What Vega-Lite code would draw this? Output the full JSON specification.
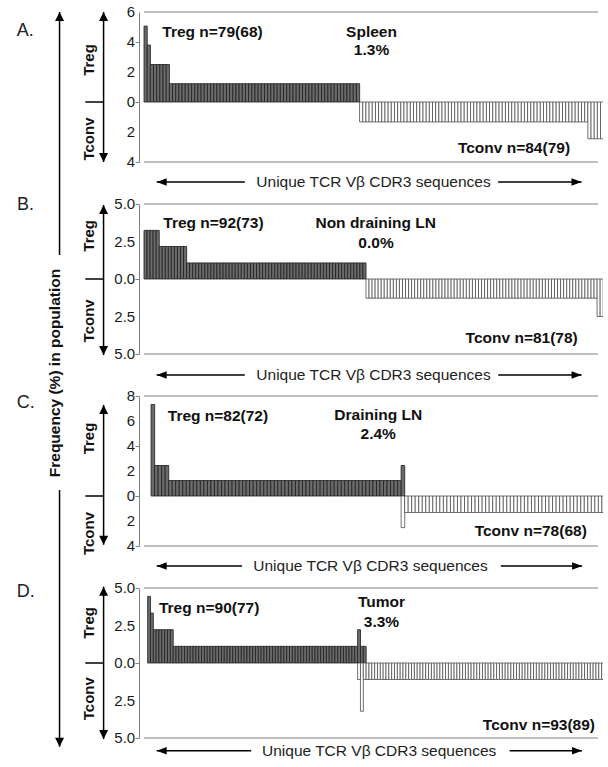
{
"$schema":"https://vega.github.io/schema/vega-lite/v6.json",
"padding":{"left":16,"top":5,"right":0,"bottom":0},
"background":"white",
"bounds":"flush",
"spacing":42,
"config":{
 "view":{"stroke":null},
 "font":"Liberation Sans",
 "axis":{"grid":false,"domainColor":"#808080","domainWidth":1,"tickColor":"#808080","tickSize":4,"labels":false,"title":null},
 "text":{"font":"Liberation Sans","baseline":"middle","align":"center","color":"#111111","fontSize":15.5},
 "rule":{"color":"#000000","strokeWidth":1.5},
 "point":{"filled":true,"color":"#000000","opacity":1,"size":81,"strokeWidth":0}
},
"vconcat":[
{
"width":464,"height":150,
"data":{"values":[{}]},
"layer":[
 {"data":{"values":[
{"i":0,"v":5.06},{"i":1,"v":3.8},{"i":2,"v":2.5},{"i":3,"v":2.5},{"i":4,"v":2.5},{"i":5,"v":2.5},{"i":6,"v":2.5},{"i":7,"v":2.5},
{"i":8,"v":1.22},{"i":9,"v":1.22},{"i":10,"v":1.22},{"i":11,"v":1.22},{"i":12,"v":1.22},{"i":13,"v":1.22},{"i":14,"v":1.22},{"i":15,"v":1.22},{"i":16,"v":1.22},{"i":17,"v":1.22},
{"i":18,"v":1.22},{"i":19,"v":1.22},{"i":20,"v":1.22},{"i":21,"v":1.22},{"i":22,"v":1.22},{"i":23,"v":1.22},{"i":24,"v":1.22},{"i":25,"v":1.22},{"i":26,"v":1.22},{"i":27,"v":1.22},
{"i":28,"v":1.22},{"i":29,"v":1.22},{"i":30,"v":1.22},{"i":31,"v":1.22},{"i":32,"v":1.22},{"i":33,"v":1.22},{"i":34,"v":1.22},{"i":35,"v":1.22},{"i":36,"v":1.22},{"i":37,"v":1.22},
{"i":38,"v":1.22},{"i":39,"v":1.22},{"i":40,"v":1.22},{"i":41,"v":1.22},{"i":42,"v":1.22},{"i":43,"v":1.22},{"i":44,"v":1.22},{"i":45,"v":1.22},{"i":46,"v":1.22},{"i":47,"v":1.22},
{"i":48,"v":1.22},{"i":49,"v":1.22},{"i":50,"v":1.22},{"i":51,"v":1.22},{"i":52,"v":1.22},{"i":53,"v":1.22},{"i":54,"v":1.22},{"i":55,"v":1.22},{"i":56,"v":1.22},{"i":57,"v":1.22},
{"i":58,"v":1.22},{"i":59,"v":1.22},{"i":60,"v":1.22},{"i":61,"v":1.22},{"i":62,"v":1.22},{"i":63,"v":1.22},{"i":64,"v":1.22},{"i":65,"v":1.22},{"i":66,"v":1.22},{"i":67,"v":1.22},
{"i":68,"v":-1.33},{"i":69,"v":-1.33},{"i":70,"v":-1.33},{"i":71,"v":-1.33},{"i":72,"v":-1.33},{"i":73,"v":-1.33},{"i":74,"v":-1.33},{"i":75,"v":-1.33},{"i":76,"v":-1.33},{"i":77,"v":-1.33},
{"i":78,"v":-1.33},{"i":79,"v":-1.33},{"i":80,"v":-1.33},{"i":81,"v":-1.33},{"i":82,"v":-1.33},{"i":83,"v":-1.33},{"i":84,"v":-1.33},{"i":85,"v":-1.33},{"i":86,"v":-1.33},{"i":87,"v":-1.33},
{"i":88,"v":-1.33},{"i":89,"v":-1.33},{"i":90,"v":-1.33},{"i":91,"v":-1.33},{"i":92,"v":-1.33},{"i":93,"v":-1.33},{"i":94,"v":-1.33},{"i":95,"v":-1.33},{"i":96,"v":-1.33},{"i":97,"v":-1.33},
{"i":98,"v":-1.33},{"i":99,"v":-1.33},{"i":100,"v":-1.33},{"i":101,"v":-1.33},{"i":102,"v":-1.33},{"i":103,"v":-1.33},{"i":104,"v":-1.33},{"i":105,"v":-1.33},{"i":106,"v":-1.33},{"i":107,"v":-1.33},
{"i":108,"v":-1.33},{"i":109,"v":-1.33},{"i":110,"v":-1.33},{"i":111,"v":-1.33},{"i":112,"v":-1.33},{"i":113,"v":-1.33},{"i":114,"v":-1.33},{"i":115,"v":-1.33},{"i":116,"v":-1.33},{"i":117,"v":-1.33},
{"i":118,"v":-1.33},{"i":119,"v":-1.33},{"i":120,"v":-1.33},{"i":121,"v":-1.33},{"i":122,"v":-1.33},{"i":123,"v":-1.33},{"i":124,"v":-1.33},{"i":125,"v":-1.33},{"i":126,"v":-1.33},{"i":127,"v":-1.33},
{"i":128,"v":-1.33},{"i":129,"v":-1.33},{"i":130,"v":-1.33},{"i":131,"v":-1.33},{"i":132,"v":-1.33},{"i":133,"v":-1.33},{"i":134,"v":-1.33},{"i":135,"v":-1.33},{"i":136,"v":-1.33},{"i":137,"v":-1.33},
{"i":138,"v":-1.33},{"i":139,"v":-1.33},{"i":140,"v":-2.45},{"i":141,"v":-2.45},{"i":142,"v":-2.45},{"i":143,"v":-2.45},{"i":144,"v":-2.45},{"i":145,"v":-2.45},{"i":146,"v":-2.45}
 ]},
  "mark":{"type":"bar","width":3.24,"xOffset":1.62,"clip":true,"strokeWidth":0.8},
  "encoding":{
   "x":{"field":"i","type":"quantitative","scale":{"domain":[0,143.2],"nice":false,"zero":false},"axis":null},
   "y":{"field":"v","type":"quantitative","scale":{"domain":[-4,6],"nice":false},"axis":{"title":null,"labels":false,"values":[-4,-2,0,2,4,6]}},
   "fill":{"condition":{"test":"datum.v>0","value":"#6b6b6b"},"value":"#ffffff"},
   "stroke":{"condition":{"test":"datum.v>0","value":"#1e1e1e"},"value":"#4d4d4d"}
  }},
 {"data":{"values":[{"t":-4,"s":"4"},{"t":-2,"s":"2"},{"t":0,"s":"0"},{"t":2,"s":"2"},{"t":4,"s":"4"},{"t":6,"s":"6"}]},
  "mark":{"type":"text","align":"right","fontSize":15,"color":"#1a1a1a"},
  "encoding":{"x":{"datum":-2.78,"axis":null},"y":{"field":"t","type":"quantitative"},"text":{"field":"s"}}},
 {"mark":{"type":"rule","color":"#808080","strokeWidth":1},"encoding":{"x":{"datum":0,"axis":null},"x2":{"datum":143.2},"y":{"datum":6}}},
 {"mark":{"type":"rule","color":"#808080","strokeWidth":1},"encoding":{"x":{"datum":0,"axis":null},"x2":{"datum":143.2},"y":{"datum":-4}}},
 {"mark":{"type":"text","text":"A.","align":"left","fontSize":18,"color":"#222222"},"encoding":{"x":{"datum":-40.1,"axis":null},"y":{"datum":4.73}}},
 {"mark":{"type":"text","text":"Treg","angle":270,"fontWeight":"bold","fontSize":15},"encoding":{"x":{"datum":-17.3,"axis":null},"y":{"datum":2.8}}},
 {"mark":{"type":"text","text":"Tconv","angle":270,"fontWeight":"bold","fontSize":15},"encoding":{"x":{"datum":-17.3,"axis":null},"y":{"datum":-2.47}}},
 {"mark":"rule","encoding":{"x":{"datum":-12.75,"axis":null},"y":{"datum":6},"y2":{"datum":-4}}},
 {"mark":{"type":"point","shape":"M0,0L-1,2L1,2Z"},"encoding":{"x":{"datum":-12.75,"axis":null},"y":{"datum":6}}},
 {"mark":{"type":"point","shape":"M0,0L-1,-2L1,-2Z"},"encoding":{"x":{"datum":-12.75,"axis":null},"y":{"datum":-4}}},
 {"mark":"rule","encoding":{"x":{"datum":-18.5,"axis":null},"x2":{"datum":-12.75},"y":{"datum":0}}},
 {"mark":{"type":"text","text":"Treg n=79(68)","align":"left","fontWeight":"bold"},"encoding":{"x":{"datum":5.77,"axis":null},"y":{"datum":4.69}}},
 {"mark":{"type":"text","text":"Spleen","fontWeight":"bold"},"encoding":{"x":{"datum":71.76,"axis":null},"y":{"datum":4.67}}},
 {"mark":{"type":"text","text":"1.3%","fontWeight":"bold"},"encoding":{"x":{"datum":71.76,"axis":null},"y":{"datum":3.47}}},
 {"mark":{"type":"text","text":"Tconv n=84(79)","fontWeight":"bold"},"encoding":{"x":{"datum":116.7,"axis":null},"y":{"datum":-3.07}}},
 {"mark":"rule","encoding":{"x":{"datum":4.01,"axis":null},"x2":{"datum":31.8},"y":{"datum":-5.33}}},
 {"mark":"rule","encoding":{"x":{"datum":111.7,"axis":null},"x2":{"datum":138.0},"y":{"datum":-5.33}}},
 {"mark":{"type":"point","shape":"M0,0L2,-0.75L2,0.75Z","size":100},"encoding":{"x":{"datum":4.01,"axis":null},"y":{"datum":-5.33}}},
 {"mark":{"type":"point","shape":"M0,0L-2,-0.75L-2,0.75Z","size":100},"encoding":{"x":{"datum":138.0,"axis":null},"y":{"datum":-5.33}}},
 {"mark":{"type":"text","text":"Unique TCR Vβ CDR3 sequences","color":"#222222"},"encoding":{"x":{"datum":72.4,"axis":null},"y":{"datum":-5.33}}},
 {"mark":"rule","encoding":{"x":{"datum":-26.64,"axis":null},"y":{"datum":6},"y2":{"datum":-10.2}}},
 {"mark":"rule","encoding":{"x":{"datum":-26.64,"axis":null},"y":{"datum":-25.87},"y2":{"datum":-42.98}}},
 {"mark":{"type":"point","shape":"M0,0L-1,2L1,2Z"},"encoding":{"x":{"datum":-26.64,"axis":null},"y":{"datum":6}}},
 {"mark":{"type":"point","shape":"M0,0L-1,-2L1,-2Z"},"encoding":{"x":{"datum":-26.64,"axis":null},"y":{"datum":-42.98}}},
 {"mark":{"type":"text","text":"Frequency (%) in population","angle":270,"fontWeight":"bold"},"encoding":{"x":{"datum":-27.93,"axis":null},"y":{"datum":-18.07}}}
]},
{
"width":464,"height":150,
"data":{"values":[{}]},
"layer":[
 {"data":{"values":[
{"i":0,"v":3.24},{"i":1,"v":3.24},{"i":2,"v":3.24},{"i":3,"v":3.24},{"i":4,"v":3.24},
{"i":5,"v":2.17},{"i":6,"v":2.17},{"i":7,"v":2.17},{"i":8,"v":2.17},{"i":9,"v":2.17},{"i":10,"v":2.17},{"i":11,"v":2.17},{"i":12,"v":2.17},{"i":13,"v":2.17},
{"i":14,"v":1.07},{"i":15,"v":1.07},{"i":16,"v":1.07},{"i":17,"v":1.07},{"i":18,"v":1.07},{"i":19,"v":1.07},{"i":20,"v":1.07},{"i":21,"v":1.07},{"i":22,"v":1.07},{"i":23,"v":1.07},
{"i":24,"v":1.07},{"i":25,"v":1.07},{"i":26,"v":1.07},{"i":27,"v":1.07},{"i":28,"v":1.07},{"i":29,"v":1.07},{"i":30,"v":1.07},{"i":31,"v":1.07},{"i":32,"v":1.07},{"i":33,"v":1.07},
{"i":34,"v":1.07},{"i":35,"v":1.07},{"i":36,"v":1.07},{"i":37,"v":1.07},{"i":38,"v":1.07},{"i":39,"v":1.07},{"i":40,"v":1.07},{"i":41,"v":1.07},{"i":42,"v":1.07},{"i":43,"v":1.07},
{"i":44,"v":1.07},{"i":45,"v":1.07},{"i":46,"v":1.07},{"i":47,"v":1.07},{"i":48,"v":1.07},{"i":49,"v":1.07},{"i":50,"v":1.07},{"i":51,"v":1.07},{"i":52,"v":1.07},{"i":53,"v":1.07},
{"i":54,"v":1.07},{"i":55,"v":1.07},{"i":56,"v":1.07},{"i":57,"v":1.07},{"i":58,"v":1.07},{"i":59,"v":1.07},{"i":60,"v":1.07},{"i":61,"v":1.07},{"i":62,"v":1.07},{"i":63,"v":1.07},
{"i":64,"v":1.07},{"i":65,"v":1.07},{"i":66,"v":1.07},{"i":67,"v":1.07},{"i":68,"v":1.07},{"i":69,"v":1.07},{"i":70,"v":1.07},{"i":71,"v":1.07},{"i":72,"v":1.07},
{"i":73,"v":-1.28},{"i":74,"v":-1.28},{"i":75,"v":-1.28},{"i":76,"v":-1.28},{"i":77,"v":-1.28},{"i":78,"v":-1.28},{"i":79,"v":-1.28},{"i":80,"v":-1.28},{"i":81,"v":-1.28},{"i":82,"v":-1.28},
{"i":83,"v":-1.28},{"i":84,"v":-1.28},{"i":85,"v":-1.28},{"i":86,"v":-1.28},{"i":87,"v":-1.28},{"i":88,"v":-1.28},{"i":89,"v":-1.28},{"i":90,"v":-1.28},{"i":91,"v":-1.28},{"i":92,"v":-1.28},
{"i":93,"v":-1.28},{"i":94,"v":-1.28},{"i":95,"v":-1.28},{"i":96,"v":-1.28},{"i":97,"v":-1.28},{"i":98,"v":-1.28},{"i":99,"v":-1.28},{"i":100,"v":-1.28},{"i":101,"v":-1.28},{"i":102,"v":-1.28},
{"i":103,"v":-1.28},{"i":104,"v":-1.28},{"i":105,"v":-1.28},{"i":106,"v":-1.28},{"i":107,"v":-1.28},{"i":108,"v":-1.28},{"i":109,"v":-1.28},{"i":110,"v":-1.28},{"i":111,"v":-1.28},{"i":112,"v":-1.28},
{"i":113,"v":-1.28},{"i":114,"v":-1.28},{"i":115,"v":-1.28},{"i":116,"v":-1.28},{"i":117,"v":-1.28},{"i":118,"v":-1.28},{"i":119,"v":-1.28},{"i":120,"v":-1.28},{"i":121,"v":-1.28},{"i":122,"v":-1.28},
{"i":123,"v":-1.28},{"i":124,"v":-1.28},{"i":125,"v":-1.28},{"i":126,"v":-1.28},{"i":127,"v":-1.28},{"i":128,"v":-1.28},{"i":129,"v":-1.28},{"i":130,"v":-1.28},{"i":131,"v":-1.28},{"i":132,"v":-1.28},
{"i":133,"v":-1.28},{"i":134,"v":-1.28},{"i":135,"v":-1.28},{"i":136,"v":-1.28},{"i":137,"v":-1.28},{"i":138,"v":-1.28},{"i":139,"v":-1.28},{"i":140,"v":-1.28},{"i":141,"v":-1.28},{"i":142,"v":-1.28},
{"i":143,"v":-1.28},{"i":144,"v":-1.28},{"i":145,"v":-1.28},{"i":146,"v":-1.28},{"i":147,"v":-1.28},{"i":148,"v":-1.28},{"i":149,"v":-2.5},{"i":150,"v":-2.5}
 ]},
  "mark":{"type":"bar","width":3.107,"xOffset":1.55,"clip":true,"strokeWidth":0.8},
  "encoding":{
   "x":{"field":"i","type":"quantitative","scale":{"domain":[0,149.3],"nice":false,"zero":false},"axis":null},
   "y":{"field":"v","type":"quantitative","scale":{"domain":[-5,5],"nice":false},"axis":{"title":null,"labels":false,"values":[-5,-2.5,0,2.5,5]}},
   "fill":{"condition":{"test":"datum.v>0","value":"#6b6b6b"},"value":"#ffffff"},
   "stroke":{"condition":{"test":"datum.v>0","value":"#1e1e1e"},"value":"#4d4d4d"}
  }},
 {"data":{"values":[{"t":-5,"s":"5.0"},{"t":-2.5,"s":"2.5"},{"t":0,"s":"0.0"},{"t":2.5,"s":"2.5"},{"t":5,"s":"5.0"}]},
  "mark":{"type":"text","align":"right","fontSize":15,"color":"#1a1a1a"},
  "encoding":{"x":{"datum":-2.9,"axis":null},"y":{"field":"t","type":"quantitative"},"text":{"field":"s"}}},
 {"mark":{"type":"rule","color":"#808080","strokeWidth":1},"encoding":{"x":{"datum":0,"axis":null},"x2":{"datum":149.3},"y":{"datum":5}}},
 {"mark":{"type":"rule","color":"#808080","strokeWidth":1},"encoding":{"x":{"datum":0,"axis":null},"x2":{"datum":149.3},"y":{"datum":-5}}},
 {"mark":{"type":"text","text":"B.","align":"left","fontSize":18,"color":"#222222"},"encoding":{"x":{"datum":-41.8,"axis":null},"y":{"datum":4.95}}},
 {"mark":{"type":"text","text":"Treg","angle":270,"fontWeight":"bold","fontSize":15},"encoding":{"x":{"datum":-18.0,"axis":null},"y":{"datum":2.88}}},
 {"mark":{"type":"text","text":"Tconv","angle":270,"fontWeight":"bold","fontSize":15},"encoding":{"x":{"datum":-18.0,"axis":null},"y":{"datum":-2.79}}},
 {"mark":"rule","encoding":{"x":{"datum":-13.3,"axis":null},"y":{"datum":4.93},"y2":{"datum":-5.07}}},
 {"mark":{"type":"point","shape":"M0,0L-1,2L1,2Z"},"encoding":{"x":{"datum":-13.3,"axis":null},"y":{"datum":4.93}}},
 {"mark":{"type":"point","shape":"M0,0L-1,-2L1,-2Z"},"encoding":{"x":{"datum":-13.3,"axis":null},"y":{"datum":-5.07}}},
 {"mark":"rule","encoding":{"x":{"datum":-19.3,"axis":null},"x2":{"datum":-13.3},"y":{"datum":0}}},
 {"mark":{"type":"text","text":"Treg n=92(73)","align":"left","fontWeight":"bold"},"encoding":{"x":{"datum":6.34,"axis":null},"y":{"datum":3.71}}},
 {"mark":{"type":"text","text":"Non draining LN","fontWeight":"bold"},"encoding":{"x":{"datum":76.2,"axis":null},"y":{"datum":3.71}}},
 {"mark":{"type":"text","text":"0.0%","fontWeight":"bold"},"encoding":{"x":{"datum":76.3,"axis":null},"y":{"datum":2.38}}},
 {"mark":{"type":"text","text":"Tconv n=81(78)","fontWeight":"bold"},"encoding":{"x":{"datum":124.2,"axis":null},"y":{"datum":-3.95}}},
 {"mark":"rule","encoding":{"x":{"datum":4.18,"axis":null},"x2":{"datum":33.15},"y":{"datum":-6.4}}},
 {"mark":"rule","encoding":{"x":{"datum":116.5,"axis":null},"x2":{"datum":143.9},"y":{"datum":-6.4}}},
 {"mark":{"type":"point","shape":"M0,0L2,-0.75L2,0.75Z","size":100},"encoding":{"x":{"datum":4.18,"axis":null},"y":{"datum":-6.4}}},
 {"mark":{"type":"point","shape":"M0,0L-2,-0.75L-2,0.75Z","size":100},"encoding":{"x":{"datum":143.9,"axis":null},"y":{"datum":-6.4}}},
 {"mark":{"type":"text","text":"Unique TCR Vβ CDR3 sequences","color":"#222222"},"encoding":{"x":{"datum":75.47,"axis":null},"y":{"datum":-6.4}}}
]},
{
"width":464,"height":150,
"data":{"values":[{}]},
"layer":[
 {"data":{"values":[
{"i":1,"v":7.32},{"i":2,"v":2.44},{"i":3,"v":2.44},{"i":4,"v":2.44},{"i":5,"v":2.44},
{"i":6,"v":1.24},{"i":7,"v":1.24},{"i":8,"v":1.24},{"i":9,"v":1.24},{"i":10,"v":1.24},{"i":11,"v":1.24},{"i":12,"v":1.24},{"i":13,"v":1.24},{"i":14,"v":1.24},{"i":15,"v":1.24},
{"i":16,"v":1.24},{"i":17,"v":1.24},{"i":18,"v":1.24},{"i":19,"v":1.24},{"i":20,"v":1.24},{"i":21,"v":1.24},{"i":22,"v":1.24},{"i":23,"v":1.24},{"i":24,"v":1.24},{"i":25,"v":1.24},
{"i":26,"v":1.24},{"i":27,"v":1.24},{"i":28,"v":1.24},{"i":29,"v":1.24},{"i":30,"v":1.24},{"i":31,"v":1.24},{"i":32,"v":1.24},{"i":33,"v":1.24},{"i":34,"v":1.24},{"i":35,"v":1.24},
{"i":36,"v":1.24},{"i":37,"v":1.24},{"i":38,"v":1.24},{"i":39,"v":1.24},{"i":40,"v":1.24},{"i":41,"v":1.24},{"i":42,"v":1.24},{"i":43,"v":1.24},{"i":44,"v":1.24},{"i":45,"v":1.24},
{"i":46,"v":1.24},{"i":47,"v":1.24},{"i":48,"v":1.24},{"i":49,"v":1.24},{"i":50,"v":1.24},{"i":51,"v":1.24},{"i":52,"v":1.24},{"i":53,"v":1.24},{"i":54,"v":1.24},{"i":55,"v":1.24},
{"i":56,"v":1.24},{"i":57,"v":1.24},{"i":58,"v":1.24},{"i":59,"v":1.24},{"i":60,"v":1.24},{"i":61,"v":1.24},{"i":62,"v":1.24},{"i":63,"v":1.24},{"i":64,"v":1.24},{"i":65,"v":1.24},
{"i":66,"v":1.24},{"i":67,"v":1.24},{"i":68,"v":1.24},{"i":69,"v":1.24},{"i":70,"v":1.24},{"i":71,"v":1.24},{"i":72,"v":2.44},
{"i":72,"v":-2.53},{"i":73,"v":-1.32},{"i":74,"v":-1.32},{"i":75,"v":-1.32},{"i":76,"v":-1.32},{"i":77,"v":-1.32},{"i":78,"v":-1.32},{"i":79,"v":-1.32},{"i":80,"v":-1.32},{"i":81,"v":-1.32},
{"i":82,"v":-1.32},{"i":83,"v":-1.32},{"i":84,"v":-1.32},{"i":85,"v":-1.32},{"i":86,"v":-1.32},{"i":87,"v":-1.32},{"i":88,"v":-1.32},{"i":89,"v":-1.32},{"i":90,"v":-1.32},{"i":91,"v":-1.32},
{"i":92,"v":-1.32},{"i":93,"v":-1.32},{"i":94,"v":-1.32},{"i":95,"v":-1.32},{"i":96,"v":-1.32},{"i":97,"v":-1.32},{"i":98,"v":-1.32},{"i":99,"v":-1.32},{"i":100,"v":-1.32},{"i":101,"v":-1.32},
{"i":102,"v":-1.32},{"i":103,"v":-1.32},{"i":104,"v":-1.32},{"i":105,"v":-1.32},{"i":106,"v":-1.32},{"i":107,"v":-1.32},{"i":108,"v":-1.32},{"i":109,"v":-1.32},{"i":110,"v":-1.32},{"i":111,"v":-1.32},
{"i":112,"v":-1.32},{"i":113,"v":-1.32},{"i":114,"v":-1.32},{"i":115,"v":-1.32},{"i":116,"v":-1.32},{"i":117,"v":-1.32},{"i":118,"v":-1.32},{"i":119,"v":-1.32},{"i":120,"v":-1.32},{"i":121,"v":-1.32},
{"i":122,"v":-1.32},{"i":123,"v":-1.32},{"i":124,"v":-1.32},{"i":125,"v":-1.32},{"i":126,"v":-1.32},{"i":127,"v":-1.32},{"i":128,"v":-1.32},{"i":129,"v":-1.32},{"i":130,"v":-1.32},{"i":131,"v":-1.32},
{"i":132,"v":-1.32},{"i":133,"v":-1.32},{"i":134,"v":-1.32},{"i":135,"v":-1.32},{"i":136,"v":-1.32},{"i":137,"v":-1.32},{"i":138,"v":-1.32},{"i":139,"v":-1.32}
 ]},
  "mark":{"type":"bar","width":3.6,"xOffset":1.8,"clip":true,"strokeWidth":0.8},
  "encoding":{
   "x":{"field":"i","type":"quantitative","scale":{"domain":[-1,127.9],"nice":false,"zero":false},"axis":null},
   "y":{"field":"v","type":"quantitative","scale":{"domain":[-4,8],"nice":false},"axis":{"title":null,"labels":false,"values":[-4,-2,0,2,4,6,8]}},
   "fill":{"condition":{"test":"datum.v>0","value":"#6b6b6b"},"value":"#ffffff"},
   "stroke":{"condition":{"test":"datum.v>0","value":"#1e1e1e"},"value":"#4d4d4d"}
  }},
 {"data":{"values":[{"t":-4,"s":"4"},{"t":-2,"s":"2"},{"t":0,"s":"0"},{"t":2,"s":"2"},{"t":4,"s":"4"},{"t":6,"s":"6"},{"t":8,"s":"8"}]},
  "mark":{"type":"text","align":"right","fontSize":15,"color":"#1a1a1a"},
  "encoding":{"x":{"datum":-3.5,"axis":null},"y":{"field":"t","type":"quantitative"},"text":{"field":"s"}}},
 {"mark":{"type":"rule","color":"#808080","strokeWidth":1},"encoding":{"x":{"datum":-1,"axis":null},"x2":{"datum":127.9},"y":{"datum":8}}},
 {"mark":{"type":"rule","color":"#808080","strokeWidth":1},"encoding":{"x":{"datum":-1,"axis":null},"x2":{"datum":127.9},"y":{"datum":-4}}},
 {"mark":{"type":"text","text":"C.","align":"left","fontSize":18,"color":"#222222"},"encoding":{"x":{"datum":-37.1,"axis":null},"y":{"datum":7.44}}},
 {"mark":{"type":"text","text":"Treg","angle":270,"fontWeight":"bold","fontSize":15},"encoding":{"x":{"datum":-16.56,"axis":null},"y":{"datum":4.6}}},
 {"mark":{"type":"text","text":"Tconv","angle":270,"fontWeight":"bold","fontSize":15},"encoding":{"x":{"datum":-16.56,"axis":null},"y":{"datum":-3.0}}},
 {"mark":"rule","encoding":{"x":{"datum":-12.47,"axis":null},"y":{"datum":7.28},"y2":{"datum":-3.9}}},
 {"mark":{"type":"point","shape":"M0,0L-1,2L1,2Z"},"encoding":{"x":{"datum":-12.47,"axis":null},"y":{"datum":7.28}}},
 {"mark":{"type":"point","shape":"M0,0L-1,-2L1,-2Z"},"encoding":{"x":{"datum":-12.47,"axis":null},"y":{"datum":-3.9}}},
 {"mark":"rule","encoding":{"x":{"datum":-17.67,"axis":null},"x2":{"datum":-12.47},"y":{"datum":0}}},
 {"mark":{"type":"text","text":"Treg n=82(72)","align":"left","fontWeight":"bold"},"encoding":{"x":{"datum":5.75,"axis":null},"y":{"datum":6.4}}},
 {"mark":{"type":"text","text":"Draining LN","fontWeight":"bold"},"encoding":{"x":{"datum":65.5,"axis":null},"y":{"datum":6.48}}},
 {"mark":{"type":"text","text":"2.4%","fontWeight":"bold"},"encoding":{"x":{"datum":65.5,"axis":null},"y":{"datum":4.96}}},
 {"mark":{"type":"text","text":"Tconv n=78(68)","fontWeight":"bold"},"encoding":{"x":{"datum":108.8,"axis":null},"y":{"datum":-2.8}}},
 {"mark":"rule","encoding":{"x":{"datum":2.61,"axis":null},"x2":{"datum":26.8},"y":{"datum":-5.6}}},
 {"mark":"rule","encoding":{"x":{"datum":100.3,"axis":null},"x2":{"datum":123.4},"y":{"datum":-5.6}}},
 {"mark":{"type":"point","shape":"M0,0L2,-0.75L2,0.75Z","size":100},"encoding":{"x":{"datum":2.61,"axis":null},"y":{"datum":-5.6}}},
 {"mark":{"type":"point","shape":"M0,0L-2,-0.75L-2,0.75Z","size":100},"encoding":{"x":{"datum":123.4,"axis":null},"y":{"datum":-5.6}}},
 {"mark":{"type":"text","text":"Unique TCR Vβ CDR3 sequences","color":"#222222"},"encoding":{"x":{"datum":63.3,"axis":null},"y":{"datum":-5.6}}}
]},
{
"width":464,"height":150,
"data":{"values":[{}]},
"layer":[
 {"data":{"values":[
{"i":0,"v":4.44},{"i":1,"v":3.33},{"i":2,"v":2.22},{"i":3,"v":2.22},{"i":4,"v":2.22},{"i":5,"v":2.22},{"i":6,"v":2.22},{"i":7,"v":2.22},{"i":8,"v":2.22},
{"i":9,"v":1.11},{"i":10,"v":1.11},{"i":11,"v":1.11},{"i":12,"v":1.11},{"i":13,"v":1.11},{"i":14,"v":1.11},{"i":15,"v":1.11},{"i":16,"v":1.11},{"i":17,"v":1.11},{"i":18,"v":1.11},
{"i":19,"v":1.11},{"i":20,"v":1.11},{"i":21,"v":1.11},{"i":22,"v":1.11},{"i":23,"v":1.11},{"i":24,"v":1.11},{"i":25,"v":1.11},{"i":26,"v":1.11},{"i":27,"v":1.11},{"i":28,"v":1.11},
{"i":29,"v":1.11},{"i":30,"v":1.11},{"i":31,"v":1.11},{"i":32,"v":1.11},{"i":33,"v":1.11},{"i":34,"v":1.11},{"i":35,"v":1.11},{"i":36,"v":1.11},{"i":37,"v":1.11},{"i":38,"v":1.11},
{"i":39,"v":1.11},{"i":40,"v":1.11},{"i":41,"v":1.11},{"i":42,"v":1.11},{"i":43,"v":1.11},{"i":44,"v":1.11},{"i":45,"v":1.11},{"i":46,"v":1.11},{"i":47,"v":1.11},{"i":48,"v":1.11},
{"i":49,"v":1.11},{"i":50,"v":1.11},{"i":51,"v":1.11},{"i":52,"v":1.11},{"i":53,"v":1.11},{"i":54,"v":1.11},{"i":55,"v":1.11},{"i":56,"v":1.11},{"i":57,"v":1.11},{"i":58,"v":1.11},
{"i":59,"v":1.11},{"i":60,"v":1.11},{"i":61,"v":1.11},{"i":62,"v":1.11},{"i":63,"v":1.11},{"i":64,"v":1.11},{"i":65,"v":1.11},{"i":66,"v":1.11},{"i":67,"v":1.11},{"i":68,"v":1.11},
{"i":69,"v":1.11},{"i":70,"v":1.11},{"i":71,"v":1.11},{"i":72,"v":1.11},{"i":73,"v":1.11},{"i":74,"v":2.22},{"i":75,"v":1.11},{"i":76,"v":1.11},
{"i":74,"v":-1.1},{"i":75,"v":-3.22},{"i":76,"v":-1.1},{"i":77,"v":-1.1},{"i":78,"v":-1.1},{"i":79,"v":-1.1},{"i":80,"v":-1.1},{"i":81,"v":-1.1},{"i":82,"v":-1.1},{"i":83,"v":-1.1},
{"i":84,"v":-1.1},{"i":85,"v":-1.1},{"i":86,"v":-1.1},{"i":87,"v":-1.1},{"i":88,"v":-1.1},{"i":89,"v":-1.1},{"i":90,"v":-1.1},{"i":91,"v":-1.1},{"i":92,"v":-1.1},{"i":93,"v":-1.1},
{"i":94,"v":-1.1},{"i":95,"v":-1.1},{"i":96,"v":-1.1},{"i":97,"v":-1.1},{"i":98,"v":-1.1},{"i":99,"v":-1.1},{"i":100,"v":-1.1},{"i":101,"v":-1.1},{"i":102,"v":-1.1},{"i":103,"v":-1.1},
{"i":104,"v":-1.1},{"i":105,"v":-1.1},{"i":106,"v":-1.1},{"i":107,"v":-1.1},{"i":108,"v":-1.1},{"i":109,"v":-1.1},{"i":110,"v":-1.1},{"i":111,"v":-1.1},{"i":112,"v":-1.1},{"i":113,"v":-1.1},
{"i":114,"v":-1.1},{"i":115,"v":-1.1},{"i":116,"v":-1.1},{"i":117,"v":-1.1},{"i":118,"v":-1.1},{"i":119,"v":-1.1},{"i":120,"v":-1.1},{"i":121,"v":-1.1},{"i":122,"v":-1.1},{"i":123,"v":-1.1},
{"i":124,"v":-1.1},{"i":125,"v":-1.1},{"i":126,"v":-1.1},{"i":127,"v":-1.1},{"i":128,"v":-1.1},{"i":129,"v":-1.1},{"i":130,"v":-1.1},{"i":131,"v":-1.1},{"i":132,"v":-1.1},{"i":133,"v":-1.1},
{"i":134,"v":-1.1},{"i":135,"v":-1.1},{"i":136,"v":-1.1},{"i":137,"v":-1.1},{"i":138,"v":-1.1},{"i":139,"v":-1.1},{"i":140,"v":-1.1},{"i":141,"v":-1.1},{"i":142,"v":-1.1},{"i":143,"v":-1.1},
{"i":144,"v":-1.1},{"i":145,"v":-1.1},{"i":146,"v":-1.1},{"i":147,"v":-1.1},{"i":148,"v":-1.1},{"i":149,"v":-1.1},{"i":150,"v":-1.1},{"i":151,"v":-1.1},{"i":152,"v":-1.1},{"i":153,"v":-1.1},
{"i":154,"v":-1.1},{"i":155,"v":-1.1},{"i":156,"v":-1.1},{"i":157,"v":-1.1},{"i":158,"v":-1.1},{"i":159,"v":-1.1},{"i":160,"v":-1.1},{"i":161,"v":-1.1},{"i":162,"v":-1.1}
 ]},
  "mark":{"type":"bar","width":2.9,"xOffset":1.45,"clip":true,"strokeWidth":0.8},
  "encoding":{
   "x":{"field":"i","type":"quantitative","scale":{"domain":[-1.28,158.72],"nice":false,"zero":false},"axis":null},
   "y":{"field":"v","type":"quantitative","scale":{"domain":[-5,5],"nice":false},"axis":{"title":null,"labels":false,"values":[-5,-2.5,0,2.5,5]}},
   "fill":{"condition":{"test":"datum.v>0","value":"#6b6b6b"},"value":"#ffffff"},
   "stroke":{"condition":{"test":"datum.v>0","value":"#1e1e1e"},"value":"#4d4d4d"}
  }},
 {"data":{"values":[{"t":-5,"s":"5.0"},{"t":-2.5,"s":"2.5"},{"t":0,"s":"0.0"},{"t":2.5,"s":"2.5"},{"t":5,"s":"5.0"}]},
  "mark":{"type":"text","align":"right","fontSize":15,"color":"#1a1a1a"},
  "encoding":{"x":{"datum":-4.38,"axis":null},"y":{"field":"t","type":"quantitative"},"text":{"field":"s"}}},
 {"mark":{"type":"rule","color":"#808080","strokeWidth":1},"encoding":{"x":{"datum":-1.28,"axis":null},"x2":{"datum":158.72},"y":{"datum":5}}},
 {"mark":{"type":"rule","color":"#808080","strokeWidth":1},"encoding":{"x":{"datum":-1.28,"axis":null},"x2":{"datum":158.72},"y":{"datum":-5}}},
 {"mark":{"type":"text","text":"D.","align":"left","fontSize":18,"color":"#222222"},"encoding":{"x":{"datum":-46.1,"axis":null},"y":{"datum":4.73}}},
 {"mark":{"type":"text","text":"Treg","angle":270,"fontWeight":"bold","fontSize":15},"encoding":{"x":{"datum":-20.6,"axis":null},"y":{"datum":2.67}}},
 {"mark":{"type":"text","text":"Tconv","angle":270,"fontWeight":"bold","fontSize":15},"encoding":{"x":{"datum":-20.6,"axis":null},"y":{"datum":-2.38}}},
 {"mark":"rule","encoding":{"x":{"datum":-15.52,"axis":null},"y":{"datum":5.09},"y2":{"datum":-5.07}}},
 {"mark":{"type":"point","shape":"M0,0L-1,2L1,2Z"},"encoding":{"x":{"datum":-15.52,"axis":null},"y":{"datum":5.09}}},
 {"mark":{"type":"point","shape":"M0,0L-1,-2L1,-2Z"},"encoding":{"x":{"datum":-15.52,"axis":null},"y":{"datum":-5.07}}},
 {"mark":"rule","encoding":{"x":{"datum":-21.97,"axis":null},"x2":{"datum":-15.52},"y":{"datum":0}}},
 {"mark":{"type":"text","text":"Treg n=90(77)","align":"left","fontWeight":"bold"},"encoding":{"x":{"datum":3.99,"axis":null},"y":{"datum":3.65}}},
 {"mark":{"type":"text","text":"Tumor","fontWeight":"bold"},"encoding":{"x":{"datum":82.44,"axis":null},"y":{"datum":4.05}}},
 {"mark":{"type":"text","text":"3.3%","fontWeight":"bold"},"encoding":{"x":{"datum":82.4,"axis":null},"y":{"datum":2.75}}},
 {"mark":{"type":"text","text":"Tconv n=93(89)","fontWeight":"bold"},"encoding":{"x":{"datum":137.9,"axis":null},"y":{"datum":-4.13}}},
 {"mark":"rule","encoding":{"x":{"datum":3.2,"axis":null},"x2":{"datum":36.5},"y":{"datum":-5.85}}},
 {"mark":"rule","encoding":{"x":{"datum":127.6,"axis":null},"x2":{"datum":153.1},"y":{"datum":-5.85}}},
 {"mark":{"type":"point","shape":"M0,0L2,-0.75L2,0.75Z","size":100},"encoding":{"x":{"datum":3.2,"axis":null},"y":{"datum":-5.85}}},
 {"mark":{"type":"point","shape":"M0,0L-2,-0.75L-2,0.75Z","size":100},"encoding":{"x":{"datum":153.1,"axis":null},"y":{"datum":-5.85}}},
 {"mark":{"type":"text","text":"Unique TCR Vβ CDR3 sequences","color":"#222222"},"encoding":{"x":{"datum":81.6,"axis":null},"y":{"datum":-5.85}}}
]}
]
}
